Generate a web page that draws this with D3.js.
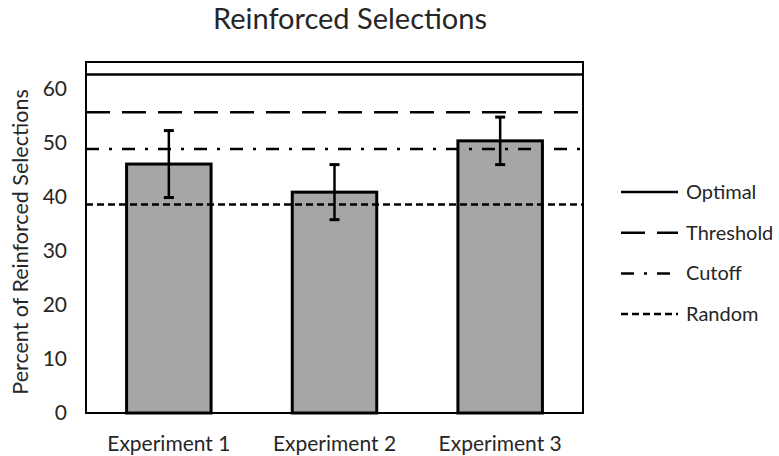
<!DOCTYPE html>
<html>
<head>
<meta charset="utf-8">
<script src="https://cdn.jsdelivr.net/npm/d3@7"></script>
<style>
  body { margin: 0; background: #fff; }
  text { font-family: Lato, "Open Sans", sans-serif; fill: #262626; }
</style>
</head>
<body>
<svg id="chart" width="779" height="456"></svg>
<script>
// data
var experiments = ["Experiment 1", "Experiment 2", "Experiment 3"];
var percents = [46.1, 40.9, 50.4];
var errors = [6.2, 5.1, 4.4];
var refNames = ["Optimal", "Threshold", "Cutoff", "Random"];
var refValues = [62.7, 55.7, 48.9, 38.6];
var refDashes = ["none", "24,12", "13,10,3,10", "7,4"];
var yTicks = [0, 10, 20, 30, 40, 50, 60];

var svg = d3.select("svg#chart");
var plotL = 86, plotR = 583, plotT = 62, plotB = 413;

var x = d3.scaleBand()
    .domain(experiments)
    .range([plotL, plotR])
    .paddingInner(0.49)
    .paddingOuter(0.245);

var y = d3.scaleLinear()
    .domain([0, 65])
    .range([plotB, plotT]);

// title
svg.append("text")
    .attr("x", 350).attr("y", 29)
    .attr("text-anchor", "middle")
    .style("font-size", "29px")
    .text("Reinforced Selections");

// bars
svg.selectAll("rect.bar")
    .data(percents)
    .enter().append("rect")
    .attr("class", "bar")
    .attr("x", function(d, i) { return x(experiments[i]); })
    .attr("y", function(d) { return y(d); })
    .attr("width", x.bandwidth())
    .attr("height", function(d) { return y(0) - y(d); })
    .attr("fill", "#a6a6a6")
    .attr("stroke", "#000")
    .attr("stroke-width", 3);

// reference lines
svg.selectAll("line.ref")
    .data(refValues)
    .enter().append("line")
    .attr("class", "ref")
    .attr("x1", plotL).attr("x2", plotR)
    .attr("y1", function(d) { return y(d); })
    .attr("y2", function(d) { return y(d); })
    .attr("stroke", "#000")
    .attr("stroke-width", 2.5)
    .attr("stroke-dasharray", function(d, i) { return refDashes[i]; });

// error bars
var eb = svg.selectAll("g.err")
    .data(percents)
    .enter().append("g")
    .attr("class", "err")
    .attr("transform", function(d, i) { return "translate(" + (x(experiments[i]) + x.bandwidth() / 2) + ",0)"; });

eb.append("line")
    .attr("y1", function(d, i) { return y(d + errors[i]); })
    .attr("y2", function(d, i) { return y(d - errors[i]); })
    .attr("stroke", "#000").attr("stroke-width", 2.5);
eb.selectAll("line.cap")
    .data(function(d, i) { return [d + errors[i], d - errors[i]]; })
    .enter().append("line")
    .attr("class", "cap")
    .attr("x1", -5).attr("x2", 5)
    .attr("y1", function(d) { return y(d); })
    .attr("y2", function(d) { return y(d); })
    .attr("stroke", "#000").attr("stroke-width", 3);

// plot frame
svg.append("rect")
    .attr("x", plotL).attr("y", plotT)
    .attr("width", plotR - plotL).attr("height", plotB - plotT)
    .attr("fill", "none")
    .attr("stroke", "#000")
    .attr("stroke-width", 2);

// y axis
var yAxis = svg.append("g")
    .attr("transform", "translate(" + plotL + ",0)")
    .call(d3.axisLeft(y).tickValues(yTicks).tickSize(0).tickPadding(19));
yAxis.select(".domain").remove();
yAxis.selectAll("text")
    .style("font-size", "21px")
    .attr("fill", "#262626")
    .style("font-family", "Lato, sans-serif");

// x axis
var xAxis = svg.append("g")
    .attr("transform", "translate(0," + plotB + ")")
    .call(d3.axisBottom(x).tickSize(0).tickPadding(23));
xAxis.select(".domain").remove();
xAxis.selectAll("text")
    .style("font-size", "21px")
    .attr("fill", "#262626")
    .style("font-family", "Lato, sans-serif");

// y label
svg.append("text")
    .attr("transform", "translate(28,242) rotate(-90)")
    .attr("text-anchor", "middle")
    .style("font-size", "21.5px")
    .text("Percent of Reinforced Selections");

// legend
var legend = svg.selectAll("g.legend")
    .data(refNames)
    .enter().append("g")
    .attr("class", "legend")
    .attr("transform", function(d, i) { return "translate(621," + (192 + i * 40.7) + ")"; });
legend.append("line")
    .attr("x1", 0).attr("x2", 57)
    .attr("stroke", "#000")
    .attr("stroke-width", 2.5)
    .attr("stroke-dasharray", function(d, i) { return refDashes[i]; });
legend.append("text")
    .attr("x", 65).attr("dy", "0.35em")
    .style("font-size", "20px")
    .text(function(d) { return d; });
</script>
</body>
</html>
